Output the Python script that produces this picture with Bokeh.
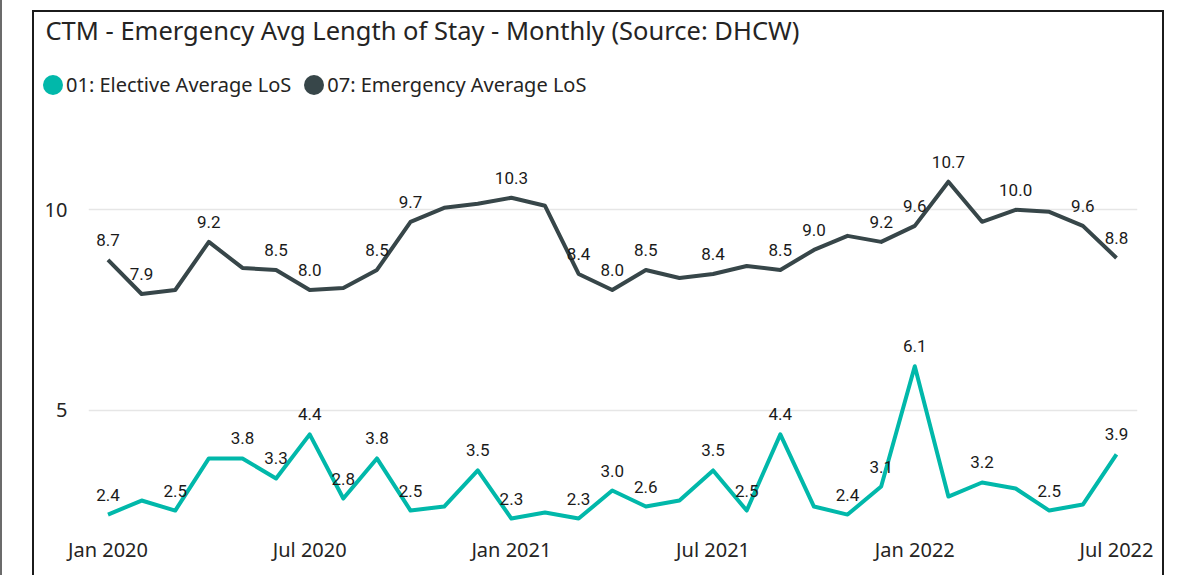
from bokeh.plotting import figure
from bokeh.layouts import column
from bokeh.models import (FixedTicker, Label, Legend, LegendItem, ColumnDataSource)
from bokeh.core.properties import value
from bokeh.embed import file_html
from bokeh.resources import INLINE

# ---------------- data ----------------
month_index = list(range(31))  # Jan 2020 .. Jul 2022
tick_months = [0, 6, 12, 18, 24, 30]
tick_labels = ["Jan 2020", "Jul 2020", "Jan 2021", "Jul 2021", "Jan 2022", "Jul 2022"]
y_ticks = [5, 10]

elective = [2.4, 2.75, 2.5, 3.8, 3.8, 3.3, 4.4, 2.8, 3.8, 2.5, 2.6, 3.5,
            2.3, 2.45, 2.3, 3.0, 2.6, 2.75, 3.5, 2.5, 4.4, 2.6, 2.4, 3.1,
            6.1, 2.85, 3.2, 3.05, 2.5, 2.65, 3.9]
emergency = [8.75, 7.9, 8.0, 9.2, 8.55, 8.5, 8.0, 8.05, 8.5, 9.7, 10.05, 10.15,
             10.3, 10.1, 8.4, 8.0, 8.5, 8.3, 8.4, 8.6, 8.5, 9.0, 9.35, 9.2,
             9.6, 10.7, 9.7, 10.0, 9.95, 9.6, 8.8]
elective_labelled = [0, 2, 4, 5, 6, 7, 8, 9, 11, 12, 14, 15, 16, 18, 19, 20,
                     22, 23, 24, 26, 28, 30]
emergency_labelled = [0, 1, 3, 5, 6, 8, 9, 12, 14, 15, 16, 18, 20, 21, 23, 24,
                      25, 27, 29, 30]

series_names = ["01: Elective Average LoS", "07: Emergency Average LoS"]
title_text = "CTM - Emergency Avg Length of Stay - Monthly (Source: DHCW)"

# ---------------- styling ----------------
TEAL = "#01B8AA"
DARK = "#374649"
TEXT = "#252423"
UI_FONT = "Noto Sans"
W = 1180
HEAD_H = 110
MAIN_H = 465

# ---------- header: title + legend ----------
head = figure(width=W, height=HEAD_H, x_range=(0, 1), y_range=(0, 1),
              output_backend="svg", toolbar_location=None, min_border=0)
head.frame_align = False
head.title.visible = False
head.axis.visible = False
head.grid.visible = False
head.outline_line_color = None
head.background_fill_color = None
head.border_fill_color = None

head.add_layout(Label(x=45, y=HEAD_H - 29, x_units="screen", y_units="screen",
                      text=title_text, text_font=UI_FONT, text_font_size="25.5px",
                      text_color=TEXT, text_baseline="middle", text_align="left"))

# legend glyphs: tiny ellipses placed outside the header's range (never visible)
r_el = head.ellipse([5], [5], width=0.01, height=0.01, width_units="screen",
                    height_units="screen", fill_color=TEAL, line_color=None)
r_em = head.ellipse([5], [5], width=0.01, height=0.01, width_units="screen",
                    height_units="screen", fill_color=DARK, line_color=None)
legend = Legend(items=[LegendItem(label=series_names[0], renderers=[r_el]),
                       LegendItem(label=series_names[1], renderers=[r_em])],
                orientation="horizontal", location=(40, 12),
                glyph_width=25, glyph_height=25, label_standoff=1, spacing=10,
                padding=0, margin=0, border_line_color=None,
                background_fill_alpha=0, inactive_fill_alpha=0,
                label_text_font=UI_FONT, label_text_font_size="20px",
                label_text_color=TEXT, click_policy="none")
head.add_layout(legend, "center")

# ---------- main chart ----------
p = figure(width=W, height=MAIN_H, x_range=(-0.58, 30.625), y_range=(1.953, 12.277),
           output_backend="svg", toolbar_location=None,
           min_border_left=88, min_border_right=43, min_border_top=8,
           min_border_bottom=43)
p.frame_align = False
p.title.visible = False
p.outline_line_color = None
p.background_fill_color = None
p.border_fill_color = None

p.xaxis.ticker = FixedTicker(ticks=tick_months)
p.xaxis.major_label_overrides = {m: l for m, l in zip(tick_months, tick_labels)}
p.yaxis.ticker = FixedTicker(ticks=y_ticks)
for ax in (p.xaxis[0], p.yaxis[0]):
    ax.axis_line_color = None
    ax.major_tick_line_color = None
    ax.minor_tick_line_color = None
    ax.major_tick_out = 0
    ax.major_tick_in = 0
    ax.major_label_text_font = UI_FONT
    ax.major_label_text_font_size = "20px"
    ax.major_label_text_color = TEXT
p.xaxis.major_label_standoff = 3
p.yaxis.major_label_standoff = 21
p.xgrid.visible = False
p.ygrid.grid_line_color = "#e6e6e6"
p.ygrid.grid_line_width = 1.5

p.line(month_index, emergency, line_color=DARK, line_width=4, line_join="round")
p.line(month_index, elective, line_color=TEAL, line_width=4, line_join="round")

def label_source(vals, idx):
    return ColumnDataSource(dict(x=[month_index[i] for i in idx],
                                 y=[vals[i] for i in idx],
                                 t=[f"{round(vals[i] - 0.001, 1):.1f}" for i in idx]))

for vals, idx in ((emergency, emergency_labelled), (elective, elective_labelled)):
    p.text(x="x", y="y", text="t", source=label_source(vals, idx),
           text_font=value("Roboto"), text_font_size="17px", text_color="#1a1a1a",
           text_align="center", text_baseline="alphabetic", y_offset=-20)

# visual frame (black box) and neighbouring edge, drawn as page decoration
LINE = "linear-gradient(#1b1b1b,#1b1b1b)"
frame_css = ", ".join([
    f"{LINE} 32px 10px / 2px 100% no-repeat",
    f"{LINE} 32px 10px / 1132px 2px no-repeat",
    f"{LINE} 1162px 10px / 2px 100% no-repeat",
    "linear-gradient(#6b6b6b,#6b6b6b) 0px 0px / 2px 100% no-repeat",
    "#ffffff",
])
layout = column(head, p, spacing=0, styles={"background": frame_css})

open("out.html", "w").write(file_html(layout, INLINE))
